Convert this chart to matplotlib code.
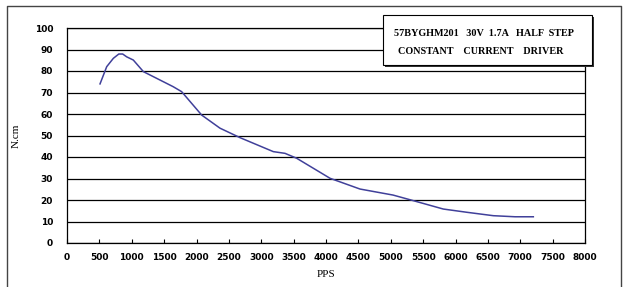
import matplotlib
matplotlib.use('Agg')
import matplotlib.pyplot as plt
from matplotlib.patches import Rectangle
from matplotlib.lines import Line2D

## DATA ------------------------------------------------
pps = [510, 613, 716, 800, 860, 921, 1024, 1180, 1640, 1770, 2080, 2363,
       2672, 3186, 3367, 3548, 4062, 4525, 4834, 5035, 5348, 5811, 6172,
       6584, 6920, 7202]
torque = [74, 82, 85.9, 87.9, 87.9, 86.6, 85.1, 79.7, 72.7, 70.4, 59.5,
          53.4, 49, 42.5, 41.7, 39.4, 30.1, 25.1, 23.4, 22.3, 19.7, 15.8,
          14.3, 12.7, 12.2, 12.2]

x_ticks = list(range(0, 8001, 500))
y_ticks = list(range(0, 101, 10))
note_lines = ['57BYGHM201   30V  1.7A   HALF  STEP',
              'CONSTANT    CURRENT    DRIVER']

## PLOT ------------------------------------------------
fig = plt.figure(figsize=(6.24, 2.87), dpi=100)
ax = fig.add_axes([67/624, 44/287, 518/624, 215/287])

ax.plot(pps, torque, color='#40409a', linewidth=1.1)

ax.set_xlim(0, 8000)
ax.set_ylim(0, 100)
ax.set_xticks(x_ticks)
ax.set_yticks(y_ticks)
ax.yaxis.grid(True, color='black', linewidth=0.9)
ax.set_axisbelow(True)
for s in ax.spines.values():
    s.set_linewidth(0.9)

tick_font = dict(family='DejaVu Sans', size=6.5, weight='bold')
ax.set_xticklabels([str(t) for t in x_ticks], fontdict=tick_font)
ax.set_yticklabels([str(t) for t in y_ticks], fontdict=tick_font)
ax.tick_params(axis='x', direction='in', length=3, width=0.8, pad=7)
ax.tick_params(axis='y', length=0, pad=10)

ax.set_xlabel('PPS', family='Liberation Serif', size=8, labelpad=6)
ax.set_ylabel('N.cm', family='Liberation Serif', size=8, labelpad=10)

# note box with shadow
fig.patches.append(Rectangle((385/624, (287-67)/287), 209/624, 50/287,
                             transform=fig.transFigure, facecolor='#333333',
                             edgecolor='none', zorder=5))
fig.patches.append(Rectangle((383/624, (287-65)/287), 209/624, 50/287,
                             transform=fig.transFigure, facecolor='white',
                             edgecolor='black', linewidth=0.8, zorder=6))
fig.text(394/624, (287-33)/287, note_lines[0], family='Liberation Serif',
         size=7.3, weight='bold', va='center', zorder=7)
fig.text(398/624, (287-52)/287, note_lines[1], family='Liberation Serif',
         size=7.3, weight='bold', va='center', zorder=7)

# outer frame
fx = [7/624, 7/624, 621/624, 621/624]
fy = [0, (287-6)/287, (287-6)/287, 0]
fig.lines.append(Line2D(fx, fy, transform=fig.transFigure, color='#444444',
                        linewidth=1.0))

fig.savefig('out.png', dpi=100)
